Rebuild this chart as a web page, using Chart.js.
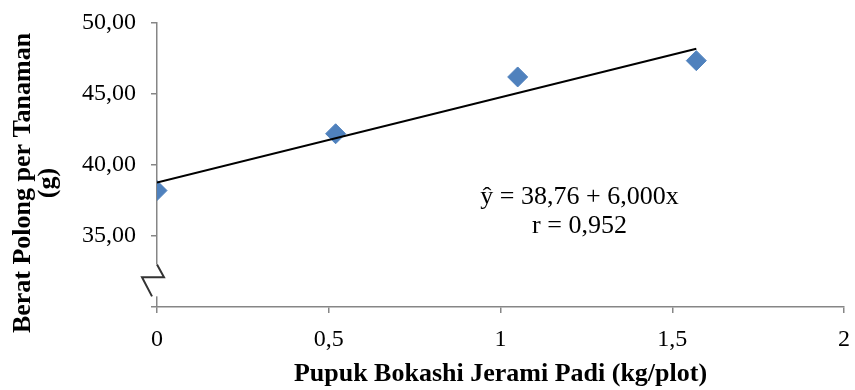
<!DOCTYPE html>
<html lang="id">
<head>
  <meta charset="UTF-8" />
  <title>Berat Polong per Tanaman</title>
  <style>
    html, body {
      margin: 0;
      padding: 0;
      background: #fff;
    }

    #wrap {
      width: 855px;
      height: 390px;
    }
  </style>
</head>
<body>

<div id="wrap">
  <canvas id="chart" width="855" height="390"></canvas>
</div>

<script src="https://cdn.jsdelivr.net/npm/chart.js"></script>

<script>
  // data
  const dosis = [0, 0.52, 1.05, 1.57];
  const beratPolong = [38.2, 42.2, 46.2, 47.35];
  const trendX = [0, 1.57];
  const trendY = [38.76, 48.18];
  const xTicks = [0, 0.5, 1, 1.5, 2];
  const yTicks = [30, 35, 40, 45, 50];
  const persamaan = ['ŷ = 38,76 + 6,000x', 'r = 0,952'];
  const judulY = ['Berat Polong per Tanaman', '(g)'];

  const axisColor = '#868686';
  const serif = '"Liberation Serif", "Times New Roman", serif';

  function koma(v, digits) {
    return v.toFixed(digits).replace('.', ',');
  }

  // judul sumbu y, teks persamaan regresi, tanda patah sumbu y
  const extras = {
    id: 'extras',
    afterDraw(chart) {
      const ctx = chart.ctx;
      const xs = chart.scales.x;
      const ys = chart.scales.y;

      ctx.save();
      ctx.fillStyle = '#000';
      ctx.textAlign = 'center';
      ctx.textBaseline = 'middle';

      ctx.font = '26px ' + serif;
      ctx.fillText(persamaan[0], xs.getPixelForValue(1.23), ys.getPixelForValue(37.7));
      ctx.fillText(persamaan[1], xs.getPixelForValue(1.23), ys.getPixelForValue(35.67));

      ctx.save();
      ctx.translate(0, 183);
      ctx.rotate(-Math.PI / 2);
      ctx.font = 'bold 26px ' + serif;
      ctx.fillText(judulY[0], 0, 23);
      ctx.fillText(judulY[1], 0, 48);
      ctx.restore();

      // patahan sumbu
      const ax = chart.chartArea.left;
      const top = ys.getPixelForValue(33);
      const mid = ys.getPixelForValue(32.1);
      const bot = ys.getPixelForValue(30.75);
      ctx.fillStyle = '#fff';
      ctx.fillRect(ax - 3, top, 6, bot - top);
      ctx.strokeStyle = '#333';
      ctx.lineWidth = 2;
      ctx.beginPath();
      ctx.moveTo(ax, top);
      ctx.lineTo(ax + 7, mid);
      ctx.lineTo(ax - 15, mid);
      ctx.lineTo(ax - 5, bot);
      ctx.stroke();
      ctx.restore();
    }
  };

  // tick padding jangan ikut memperlebar tepi area grafik
  function noEdgePadding(s) {
    s.paddingTop = 0;
    s.paddingBottom = 0;
    s.paddingLeft = 0;
    s.paddingRight = 0;
  }

  new Chart(document.getElementById('chart'), {
    type: 'scatter',
    data: {
      datasets: [
        {
          type: 'line',
          data: trendX.map((x, i) => ({ x: x, y: trendY[i] })),
          borderColor: '#000',
          borderWidth: 2,
          pointRadius: 0,
          fill: false
        },
        {
          data: dosis.map((x, i) => ({ x: x, y: beratPolong[i] })),
          backgroundColor: '#4F81BD',
          borderColor: '#4F81BD',
          pointStyle: 'rectRot',
          pointRadius: 10,
          pointHoverRadius: 10
        }
      ]
    },
    options: {
      responsive: false,
      animation: false,
      layout: { padding: { left: 0, right: 9, top: 23, bottom: 0 } },
      plugins: {
        legend: { display: false },
        tooltip: { enabled: false }
      },
      scales: {
        x: {
          type: 'linear',
          min: 0,
          max: 2,
          afterBuildTicks: (s) => { s.ticks = xTicks.map(v => ({ value: v })); },
          afterFit: (s) => { s.height = 83; noEdgePadding(s); },
          ticks: {
            color: '#000',
            font: { family: serif, size: 24 },
            padding: 12,
            maxRotation: 0,
            callback: (v) => Number.isInteger(v) ? String(v) : koma(v, 1)
          },
          grid: {
            drawOnChartArea: false,
            drawTicks: true,
            tickLength: 6,
            color: axisColor,
            lineWidth: 1.5
          },
          border: { color: axisColor, width: 1.5 },
          title: {
            display: true,
            text: 'Pupuk Bokashi Jerami Padi (kg/plot)',
            color: '#000',
            font: { family: serif, size: 26, weight: 'bold' },
            padding: { top: 0, bottom: 0 }
          }
        },
        y: {
          min: 30,
          max: 50,
          afterBuildTicks: (s) => { s.ticks = yTicks.map(v => ({ value: v })); },
          afterFit: (s) => { s.width = 157; noEdgePadding(s); },
          ticks: {
            color: '#000',
            font: { family: serif, size: 24 },
            padding: 15,
            callback: (v) => v === 30 ? '' : koma(v, 2)
          },
          grid: {
            drawOnChartArea: false,
            drawTicks: true,
            tickLength: 6,
            color: axisColor,
            lineWidth: 1.5
          },
          border: { color: axisColor, width: 1.5 }
        }
      }
    },
    plugins: [extras]
  });
</script>

</body>
</html>
